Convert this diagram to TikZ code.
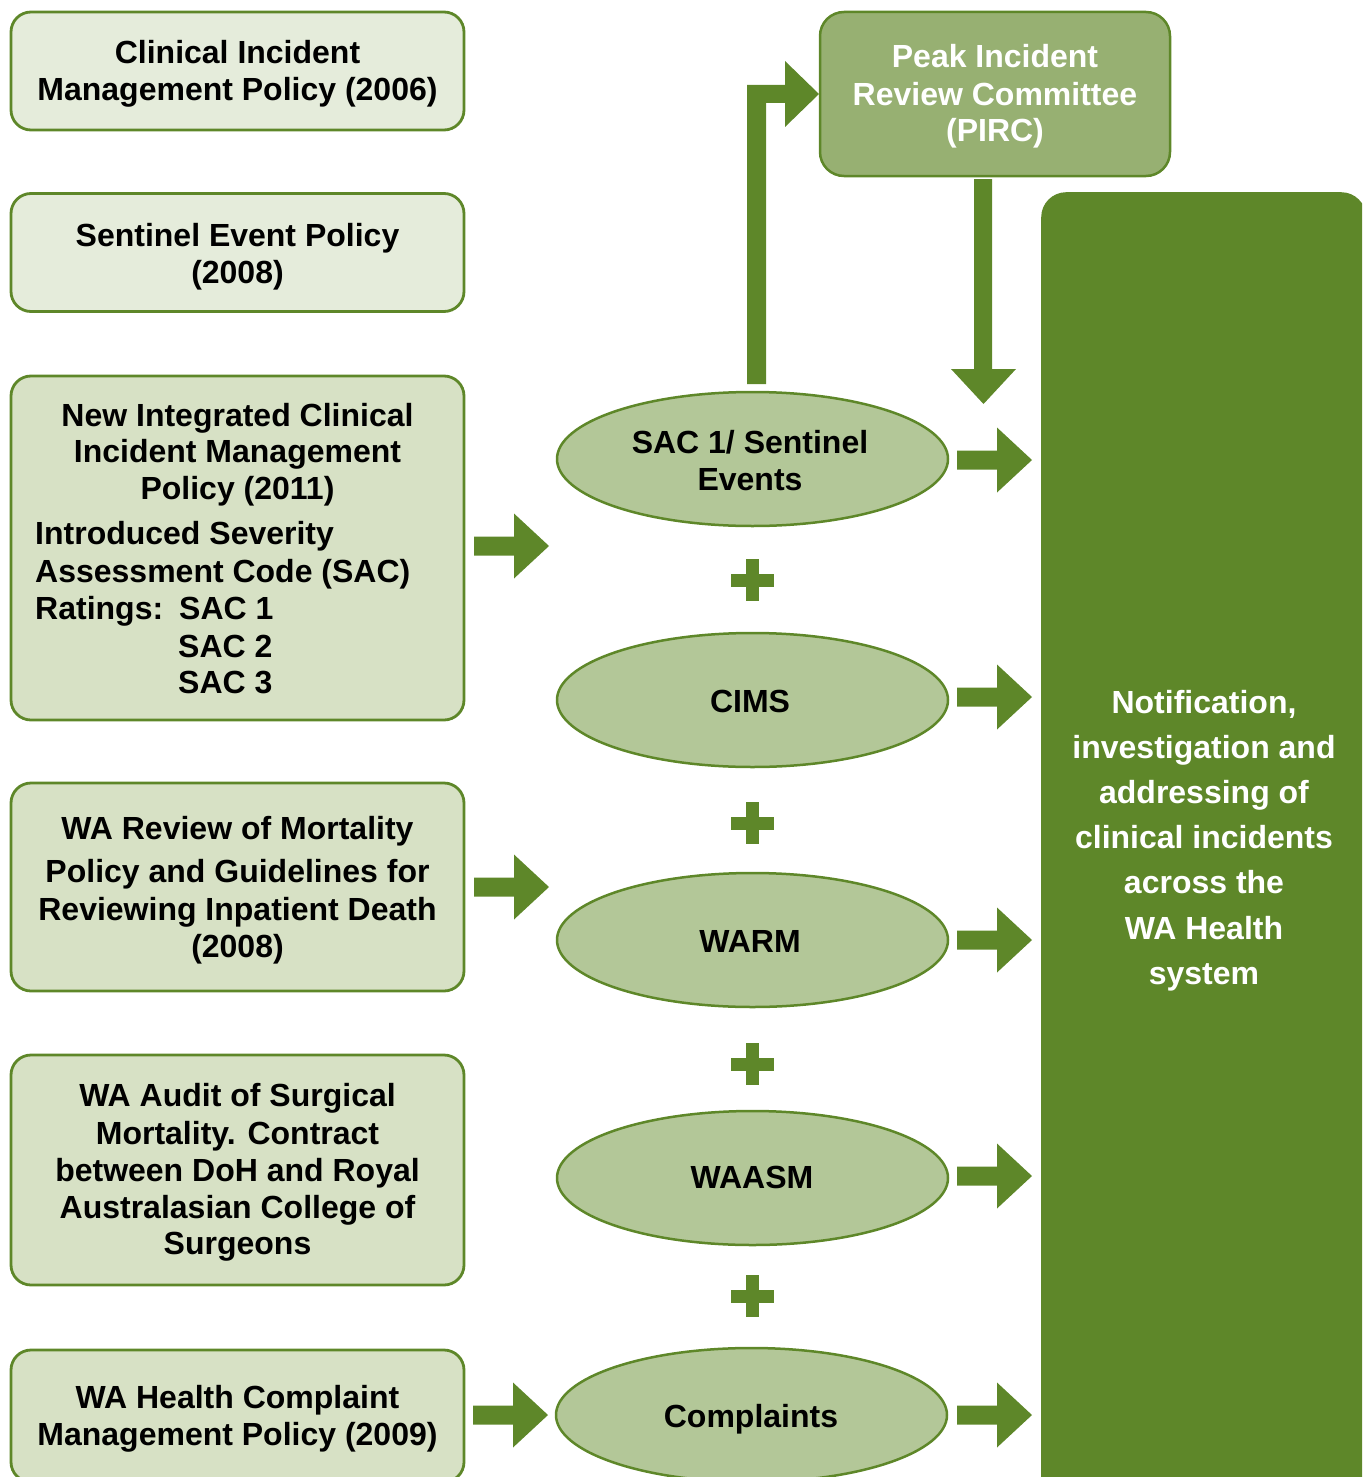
\documentclass[tikz,border=0pt]{standalone}
\usepackage{fontspec}
\setmainfont{Liberation Sans}
\usetikzlibrary{shapes.geometric}
\definecolor{gr}{RGB}{94,135,41}
\definecolor{lightA}{RGB}{229,236,219}
\definecolor{lightB}{RGB}{215,225,197}
\definecolor{ellfill}{RGB}{179,199,152}
\definecolor{pircfill}{RGB}{151,176,114}
\newcommand\blockR[2]{\fill[gr] (#1,#2) ++(0,-9.5) -- ++(40,0) -- ++(0,-23) -- ++(35,32.5) -- ++(-35,32.5) -- ++(0,-23) -- ++(-40,0) -- cycle;}
\newcommand\plusmark[2]{\fill[gr] (#1-21.5,#2-6.5) rectangle (#1+21.5,#2+6.5);
  \fill[gr] (#1-6.5,#2-21) rectangle (#1+6.5,#2+21);}
\begin{document}
\begin{tikzpicture}[x=1pt,y=-1pt,
  box/.style={draw=gr, line width=2.8pt, rounded corners=20pt, inner sep=0pt, minimum width=453pt},
  ell/.style={ellipse, draw=gr, line width=2.5pt, fill=ellfill, inner sep=0pt, minimum width=391pt, minimum height=134pt},
  txt/.style={inner sep=0pt, anchor=base, font=\fontsize{32}{37}\selectfont\bfseries},
  wtxt/.style={txt, text=white}]
\useasboundingbox (0,0) rectangle (1362,1477);
\clip (0,0) rectangle (1362,1477);

% left boxes
\node[box, fill=lightA, minimum height=118pt] (b1) at (237.5,71) {};
\node[txt] (b1a) at (237.5,64) {Clinical Incident};
\node[txt] (b1b) at (237.5,101) {Management Policy (2006)};

\node[box, fill=lightA, minimum height=118pt] (b2) at (237.5,252.5) {};
\node[txt] (b2a) at (237.5,246) {Sentinel Event Policy};
\node[txt] (b2b) at (237.5,283) {(2008)};

\node[box, fill=lightB, minimum height=344pt] (b3) at (237.5,548) {};
\node[txt] (b3a) at (237.5,426) {New Integrated Clinical};
\node[txt] (b3b) at (237.5,462) {Incident Management};
\node[txt] (b3c) at (237.5,499) {Policy (2011)};
\node[txt, anchor=base west] (b3d) at (35,544) {Introduced Severity};
\node[txt, anchor=base west] (b3e) at (35,582) {Assessment Code (SAC)};
\node[txt, anchor=base west] (b3f) at (35,619) {Ratings:};
\node[txt, anchor=base west] (b3g) at (179,619) {SAC 1};
\node[txt, anchor=base west] (b3h) at (178,657) {SAC 2};
\node[txt, anchor=base west] (b3i) at (178,693) {SAC 3};

\node[box, fill=lightB, minimum height=208pt] (b4) at (237.5,887) {};
\node[txt] (b4a) at (237.5,839) {WA Review of Mortality};
\node[txt] (b4b) at (237.5,882) {Policy and Guidelines for};
\node[txt] (b4c) at (237.5,920) {Reviewing Inpatient Death};
\node[txt] (b4d) at (237.5,957) {(2008)};

\node[box, fill=lightB, minimum height=230pt] (b5) at (237.5,1170) {};
\node[txt] (b5a) at (237.5,1106) {WA Audit of Surgical};
\node[txt] (b5b) at (237.5,1144) {Mortality. Contract};
\node[txt] (b5c) at (237.5,1181) {between DoH and Royal};
\node[txt] (b5d) at (237.5,1218) {Australasian College of};
\node[txt] (b5e) at (237.5,1254) {Surgeons};

\node[box, fill=lightB, minimum height=132pt] (b6) at (237.5,1416) {};
\node[txt] (b6a) at (237.5,1408) {WA Health Complaint};
\node[txt] (b6b) at (237.5,1445) {Management Policy (2009)};

% PIRC
\node[box, fill=pircfill, line width=2.5pt, rounded corners=24pt, minimum width=350pt, minimum height=164pt] (pirc) at (995,94) {};
\node[wtxt] (pa) at (995,68) {Peak Incident};
\node[wtxt] (pb) at (995,106) {Review Committee};
\node[wtxt] (pc) at (995,142) {(PIRC)};

% big right box
\node[fill=gr, rounded corners=25pt, inner sep=0pt, minimum width=325pt, minimum height=1320pt, anchor=north west] (nb) at (1041,192) {};
\node[wtxt] (n1) at (1204,713) {Notification,};
\node[wtxt] (n2) at (1204,758) {investigation and};
\node[wtxt] (n3) at (1204,803) {addressing of};
\node[wtxt] (n4) at (1204,848) {clinical incidents};
\node[wtxt] (n5) at (1204,893) {across the};
\node[wtxt] (n6) at (1204,939) {WA Health};
\node[wtxt] (n7) at (1204,984) {system};

% ellipses
\node[ell] (e1) at (752.5,459) {};
\node[txt] (e1a) at (750,453) {SAC 1/ Sentinel};
\node[txt] (e1b) at (750,490) {Events};
\node[ell] (e2) at (752.5,700) {};
\node[txt] (e2a) at (750,712) {CIMS};
\node[ell] (e3) at (752.5,940) {};
\node[txt] (e3a) at (750,952) {WARM};
\node[ell] (e4) at (752.5,1178) {};
\node[txt] (e4a) at (752,1188) {WAASM};
\node[ell] (e5) at (751.5,1415) {};
\node[txt] (e5a) at (751,1427) {Complaints};

% plus signs
\plusmark{752}{580}
\plusmark{752}{823}
\plusmark{752}{1064}
\plusmark{752}{1296}

% left block arrows
\blockR{474}{546}
\blockR{474}{887}
\blockR{473}{1415}

% right block arrows
\blockR{957}{460}
\blockR{957}{697}
\blockR{957}{940}
\blockR{957}{1176}
\blockR{957}{1415}

% arrow SAC1 -> PIRC
\fill[gr] (747,384) -- (766,384) -- (766,103) -- (785,103) -- (785,127) -- (819,94) -- (785,61) -- (785,85) -- (747,85) -- cycle;
% arrow PIRC -> down
\fill[gr] (974,179) -- (992,179) -- (992,369) -- (1016,369) -- (983.5,404) -- (951,369) -- (974,369) -- cycle;
\end{tikzpicture}
\end{document}
